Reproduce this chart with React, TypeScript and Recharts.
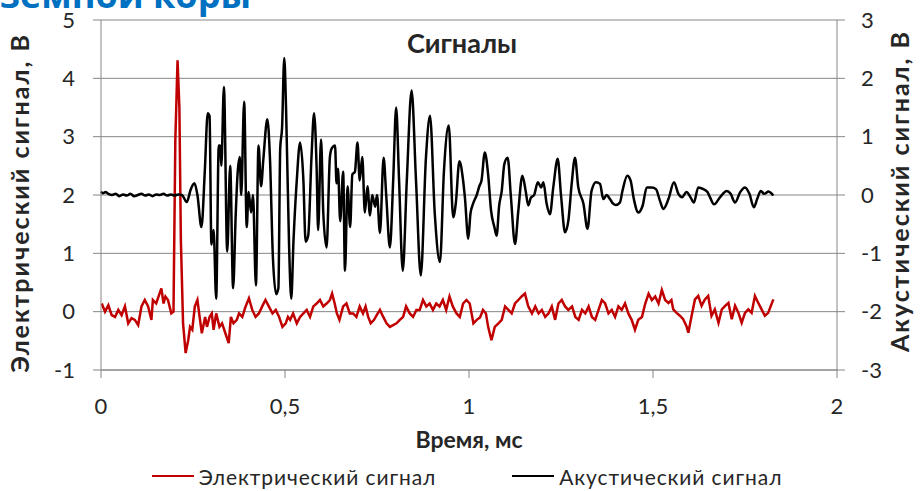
import React from 'react';
import { LineChart, Line, XAxis, YAxis, CartesianGrid, Legend } from 'recharts';

const FONT = 'Lato, "Open Sans", sans-serif';

const xTicks = [0, 0.5, 1, 1.5, 2];
const leftTicks = [-1, 0, 1, 2, 3, 4, 5];
const rightTicks = [-3, -2, -1, 0, 1, 2, 3];

const seriesNames = ['Электрический сигнал', 'Акустический сигнал'];
const seriesColors = ['#C00000', '#000000'];

// Electric signal (left axis): [time ms, volts]
const electricRaw: [number, number][] = [
  [0.002, 0.14], [0.011, 0.0], [0.02, 0.11], [0.029, -0.06], [0.038, -0.09], [0.047, 0.03], [0.056, -0.06],
  [0.065, 0.09], [0.074, -0.2], [0.083, -0.11], [0.092, -0.14], [0.101, -0.23], [0.11, 0.09], [0.119, 0.2],
  [0.128, 0.09], [0.137, -0.14], [0.141, 0.2], [0.15, 0.14], [0.159, 0.31], [0.164, 0.4], [0.17, 0.14],
  [0.175, 0.26], [0.182, 0.2], [0.191, -0.03], [0.197, 0.0], [0.202, 2.94], [0.208, 4.31], [0.213, 3.51],
  [0.217, 1.23], [0.223, -0.2], [0.23, -0.71], [0.237, -0.49], [0.242, -0.26], [0.248, -0.31], [0.255, 0.09],
  [0.262, 0.2], [0.268, -0.09], [0.274, -0.37], [0.283, -0.09], [0.288, -0.26], [0.295, -0.09], [0.301, -0.03],
  [0.306, -0.31], [0.313, -0.03], [0.322, -0.26], [0.329, -0.2], [0.338, -0.37], [0.347, -0.54], [0.353, -0.09],
  [0.36, -0.2], [0.369, -0.14], [0.375, -0.03], [0.384, -0.09], [0.393, 0.09], [0.402, 0.23], [0.411, 0.03],
  [0.42, -0.09], [0.429, -0.03], [0.438, 0.09], [0.447, 0.2], [0.456, 0.09], [0.466, -0.03], [0.475, 0.03],
  [0.484, -0.09], [0.493, -0.26], [0.502, -0.2], [0.508, -0.09], [0.514, -0.14], [0.522, -0.03], [0.532, -0.2],
  [0.541, -0.09], [0.55, -0.03], [0.559, 0.03], [0.568, -0.09], [0.577, 0.09], [0.586, 0.14], [0.595, 0.2],
  [0.604, 0.09], [0.613, 0.14], [0.622, 0.2], [0.628, 0.31], [0.635, 0.14], [0.641, -0.03], [0.648, -0.14],
  [0.658, 0.09], [0.667, 0.14], [0.676, -0.03], [0.685, -0.03], [0.694, -0.09], [0.703, 0.09], [0.712, -0.03],
  [0.719, 0.09], [0.726, -0.09], [0.733, -0.2], [0.742, -0.14], [0.75, -0.05], [0.758, 0.03], [0.767, -0.09],
  [0.776, -0.2], [0.785, -0.26], [0.794, -0.23], [0.803, -0.2], [0.812, -0.14], [0.821, -0.09], [0.829, 0.09],
  [0.839, -0.03], [0.848, -0.09], [0.857, 0.03], [0.866, 0.03], [0.875, 0.2], [0.884, 0.09], [0.893, 0.14],
  [0.902, 0.03], [0.911, 0.14], [0.92, 0.09], [0.929, 0.2], [0.938, 0.03], [0.947, 0.26], [0.956, 0.09],
  [0.966, -0.03], [0.975, -0.09], [0.984, 0.14], [0.993, 0.2], [1.002, 0.14], [1.012, -0.2], [1.021, -0.14],
  [1.03, -0.1], [1.038, 0.03], [1.046, -0.03], [1.052, -0.26], [1.061, -0.49], [1.07, -0.26], [1.08, -0.2],
  [1.089, -0.14], [1.098, 0.09], [1.107, 0.03], [1.116, -0.03], [1.125, 0.14], [1.134, 0.2], [1.143, 0.26],
  [1.152, 0.31], [1.161, 0.09], [1.171, -0.03], [1.18, 0.09], [1.189, -0.03], [1.198, 0.03], [1.207, -0.09],
  [1.216, -0.03], [1.225, 0.09], [1.234, -0.14], [1.243, 0.14], [1.252, 0.2], [1.261, 0.09], [1.27, 0.03],
  [1.28, 0.09], [1.289, -0.09], [1.298, -0.14], [1.307, 0.03], [1.316, -0.03], [1.325, 0.09], [1.334, -0.09],
  [1.343, -0.14], [1.352, 0.03], [1.361, 0.2], [1.37, 0.14], [1.379, -0.03], [1.388, 0.03], [1.397, -0.09],
  [1.406, 0.09], [1.415, 0.03], [1.424, 0.14], [1.433, -0.03], [1.442, -0.14], [1.451, -0.31], [1.46, -0.14],
  [1.47, -0.09], [1.479, 0.14], [1.488, 0.31], [1.497, 0.2], [1.506, 0.26], [1.515, 0.14], [1.524, 0.37],
  [1.533, 0.2], [1.542, 0.15], [1.55, 0.2], [1.555, 0.04], [1.564, -0.02], [1.573, -0.07], [1.582, -0.13],
  [1.591, -0.25], [1.596, -0.36], [1.605, -0.07], [1.614, 0.21], [1.623, 0.27], [1.632, 0.1], [1.641, 0.21],
  [1.65, 0.27], [1.659, -0.07], [1.668, 0.04], [1.678, -0.19], [1.687, 0.04], [1.696, 0.1], [1.705, 0.15],
  [1.714, -0.13], [1.723, 0.1], [1.732, -0.02], [1.741, -0.19], [1.75, -0.02], [1.759, 0.04], [1.768, -0.02],
  [1.777, 0.27], [1.786, 0.15], [1.795, 0.04], [1.804, -0.07], [1.813, -0.02], [1.827, 0.21],
];

// Acoustic signal (right axis): [time ms, volts]
const acousticRaw: [number, number][] = [
  [0, 0.06], [0.005, 0.03], [0.012, 0.05], [0.02, 0.02], [0.03, 0.0], [0.04, 0.02], [0.05, -0.02], [0.06, 0.01],
  [0.07, -0.01], [0.08, 0.02], [0.09, -0.02], [0.1, 0.0], [0.11, 0.02], [0.12, -0.01], [0.13, 0.01], [0.14, -0.02],
  [0.15, 0.01], [0.16, 0.0], [0.17, 0.02], [0.18, -0.01], [0.19, 0.01], [0.2, -0.01], [0.21, 0.01], [0.22, 0.0],
  [0.233, -0.12], [0.244, 0.1], [0.254, 0.2], [0.262, 0.0], [0.273, -0.55], [0.282, 0.4], [0.29, 1.4], [0.295, 1.35],
  [0.3, -0.85], [0.306, -0.6], [0.313, -1.78], [0.32, 0.85], [0.324, 0.85], [0.327, 0.5], [0.334, 1.85],
  [0.343, -0.97], [0.351, 0.5], [0.359, -1.6], [0.366, -0.35], [0.371, 0.35], [0.377, 0.65], [0.381, 0.0],
  [0.389, 1.6], [0.396, -0.55], [0.401, 0.05], [0.408, -0.3], [0.413, 0.0], [0.421, -1.55], [0.428, 0.85],
  [0.435, 0.15], [0.441, 0.6], [0.452, 1.3], [0.459, 0.65], [0.467, -1.05], [0.476, -1.7], [0.482, -1.6],
  [0.487, 0.8], [0.492, 1.15], [0.498, 2.35], [0.503, 1.45], [0.511, -0.85], [0.517, -1.78], [0.523, -0.8],
  [0.532, 0.25], [0.541, 0.9], [0.55, 0.25], [0.556, -0.8], [0.563, -0.7], [0.572, 0.65], [0.579, 1.4],
  [0.586, 0.45], [0.59, -0.6], [0.598, 0.95], [0.604, -0.3], [0.613, -0.9], [0.622, 0.65], [0.627, 0.8],
  [0.636, 0.85], [0.64, 0.2], [0.644, 0.45], [0.65, -0.45], [0.658, 0.4], [0.663, -1.3], [0.67, 0.15],
  [0.677, -0.55], [0.683, 0.35], [0.69, 0.4], [0.697, 0.9], [0.703, 0.25], [0.71, 0.65], [0.717, -0.3],
  [0.724, 0.15], [0.731, -0.35], [0.737, 0.0], [0.745, -0.2], [0.75, 0.0], [0.758, -0.65], [0.768, 0.64],
  [0.775, 0.0], [0.785, -0.9], [0.794, 0.25], [0.802, 1.5], [0.81, 0.25], [0.82, -1.3], [0.831, 0.25],
  [0.844, 1.79], [0.856, 0.25], [0.869, -1.38], [0.883, 0.64], [0.894, 1.36], [0.907, -0.32], [0.921, -1.15],
  [0.932, 0.42], [0.945, 1.19], [0.957, -0.38], [0.964, -0.15], [0.974, 0.58], [0.983, 0.3], [0.989, -0.05],
  [0.998, -0.75], [1.004, -0.32], [1.011, -0.15], [1.021, 0.0], [1.028, 0.15], [1.034, 0.25], [1.043, 0.73],
  [1.052, 0.35], [1.06, -0.27], [1.069, -0.55], [1.075, -0.7], [1.082, -0.18], [1.089, 0.07], [1.096, 0.53],
  [1.105, 0.64], [1.114, -0.04], [1.125, -0.84], [1.134, -0.27], [1.145, 0.33], [1.154, 0.07], [1.161, -0.18],
  [1.168, -0.05], [1.177, 0.0], [1.187, 0.22], [1.196, 0.13], [1.202, 0.22], [1.211, -0.15], [1.22, -0.33],
  [1.229, 0.13], [1.241, 0.62], [1.25, 0.0], [1.261, -0.64], [1.27, -0.44], [1.279, 0.19], [1.288, 0.64],
  [1.297, 0.13], [1.311, -0.15], [1.322, -0.58], [1.333, 0.07], [1.345, 0.22], [1.356, 0.19], [1.365, -0.07],
  [1.374, 0.0], [1.383, -0.07], [1.392, -0.15], [1.399, -0.17], [1.41, -0.13], [1.417, 0.07], [1.43, 0.33],
  [1.439, 0.25], [1.448, -0.07], [1.46, -0.3], [1.472, -0.18], [1.483, 0.13], [1.497, 0.13], [1.508, 0.1],
  [1.519, -0.1], [1.528, -0.24], [1.542, -0.07], [1.557, 0.22], [1.569, 0.02], [1.579, -0.04], [1.591, 0.05],
  [1.602, -0.04], [1.611, -0.13], [1.623, 0.13], [1.637, 0.1], [1.648, 0.05], [1.655, -0.04], [1.666, -0.16],
  [1.682, -0.04], [1.7, 0.07], [1.711, 0.02], [1.723, -0.13], [1.737, 0.05], [1.75, 0.13], [1.762, 0.02],
  [1.774, -0.21], [1.783, -0.07], [1.793, 0.07], [1.802, 0.02], [1.814, 0.06], [1.823, 0.02], [1.827, -0.01],
];

const electricData = electricRaw.map(([t, v]) => ({ t, v }));
const acousticData = acousticRaw.map(([t, v]) => ({ t, v }));

const fmt = (n: number) => String(n).replace('.', ',');

const AXIS_COLOR = '#868686';
const TEXT_COLOR = '#262626';

const renderLegend = () => (
  <div style={{ display: 'flex', justifyContent: 'center', alignItems: 'center', height: 26, fontFamily: FONT, fontSize: 21, letterSpacing: 0.9, color: TEXT_COLOR, paddingLeft: 14 }}>
    {seriesNames.map((name, i) => (
      <div key={name} style={{ display: 'flex', alignItems: 'center', marginLeft: i === 0 ? 0 : 76 }}>
        <div style={{ width: 42, height: 2.5, background: seriesColors[i], marginRight: 5 }} />
        <span>{name}</span>
      </div>
    ))}
  </div>
);

const axisTitleStyle = { textAnchor: 'middle', fill: TEXT_COLOR, fontSize: 25, fontWeight: 700, fontFamily: FONT, letterSpacing: 2 } as const;

export default function App() {
  return (
    <div style={{ position: 'absolute', left: 0, top: 0, width: 920, height: 491, overflow: 'hidden', background: '#fff' }}>
      <div style={{ position: 'absolute', left: 0, top: -30, fontFamily: '"Open Sans", sans-serif', fontWeight: 700, fontSize: 36, color: '#0070C0', whiteSpace: 'nowrap' }}>
        земной коры
      </div>
      <LineChart width={920} height={491} margin={{ top: 20, right: 0, left: 0, bottom: 0 }}>
        <CartesianGrid yAxisId="left" vertical={false} stroke={AXIS_COLOR} strokeWidth={1} />
        <XAxis
          type="number"
          dataKey="t"
          domain={[0, 2]}
          ticks={xTicks}
          tickFormatter={fmt}
          height={95}
          stroke={AXIS_COLOR}
          tickSize={8}
          tickMargin={20}
          tick={{ fill: TEXT_COLOR, fontSize: 22, fontFamily: FONT }}
          label={{ value: 'Время, мс', position: 'insideBottom', offset: 17, style: { fill: TEXT_COLOR, fontSize: 23, fontWeight: 700, fontFamily: FONT } }}
        />
        <YAxis
          yAxisId="left"
          domain={[-1, 5]}
          ticks={leftTicks}
          width={101}
          stroke={AXIS_COLOR}
          tickSize={8}
          tickMargin={18}
          tick={{ fill: TEXT_COLOR, fontSize: 22, fontFamily: FONT }}
          label={{ value: 'Электрический сигнал, В', angle: -90, position: 'insideLeft', offset: 20, dy: 8, style: axisTitleStyle }}
        />
        <YAxis
          yAxisId="right"
          orientation="right"
          domain={[-3, 3]}
          ticks={rightTicks}
          width={83}
          stroke={AXIS_COLOR}
          tickSize={8}
          tickMargin={16}
          tick={{ fill: TEXT_COLOR, fontSize: 22, fontFamily: FONT }}
          label={{ value: 'Акустический сигнал, В', angle: -90, position: 'insideRight', offset: 20, dy: -4, style: axisTitleStyle }}
        />
        <Legend verticalAlign="bottom" content={renderLegend} wrapperStyle={{ bottom: 2, left: 0, width: 920 }} />
        <Line
          yAxisId="left"
          data={electricData}
          dataKey="v"
          name={seriesNames[0]}
          stroke={seriesColors[0]}
          strokeWidth={2.5}
          dot={false}
          isAnimationActive={false}
        />
        <Line
          yAxisId="right"
          type="monotone"
          data={acousticData}
          dataKey="v"
          name={seriesNames[1]}
          stroke={seriesColors[1]}
          strokeWidth={2.5}
          dot={false}
          isAnimationActive={false}
        />
      </LineChart>
      <div style={{ position: 'absolute', left: 0, width: 920, top: 26, textAlign: 'center', paddingLeft: 4, boxSizing: 'border-box', fontFamily: FONT, fontWeight: 700, fontSize: 27, color: TEXT_COLOR, pointerEvents: 'none' }}>
        Сигналы
      </div>
    </div>
  );
}
